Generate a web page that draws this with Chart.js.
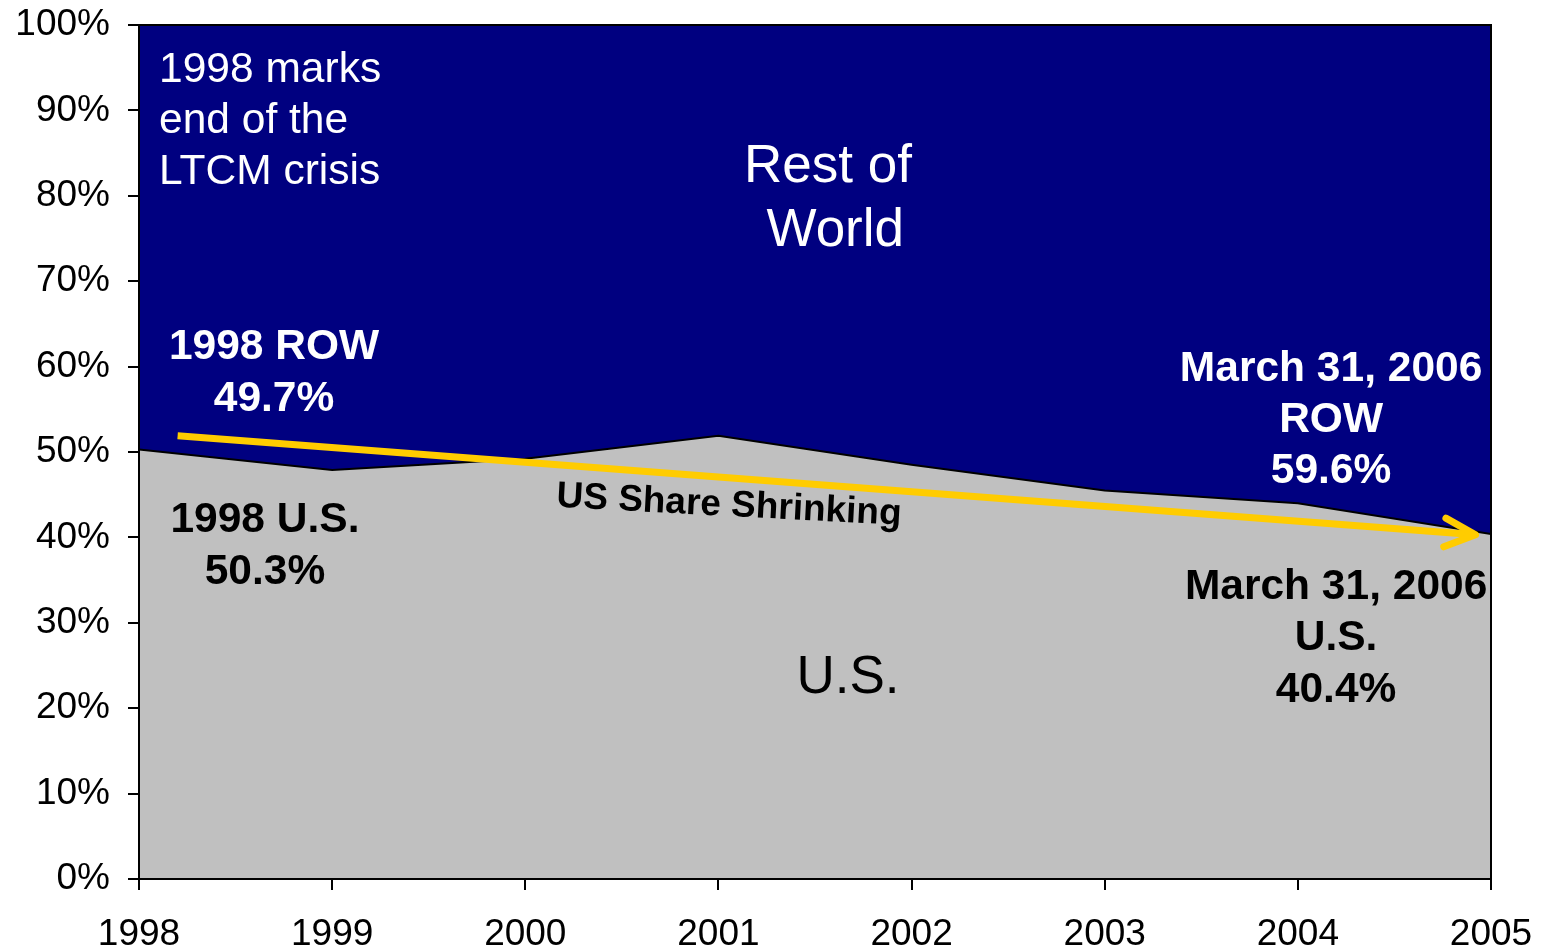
<!DOCTYPE html>
<html><head><meta charset="utf-8">
<script src="https://cdn.jsdelivr.net/npm/chart.js@4"></script>
<style>html,body{margin:0;padding:0;background:#fff}canvas{display:block}</style>
</head><body>
<canvas id="c" width="1541" height="951"></canvas>
<script>
const years = [1998, 1999, 2000, 2001, 2002, 2003, 2004, 2005];
const usShare = [50.3, 47.9, 49.2, 51.9, 48.5, 45.5, 44.0, 40.4];
const rowShare = [49.7, 52.1, 50.8, 48.1, 51.5, 54.5, 56.0, 59.6];
const trendYears = [1998.2, 2004.92];
const trendValues = [51.9, 40.3];

const FONT = "'Liberation Sans', Arial, sans-serif";

// annotation texts, positioned in data units (year, percent)
const notes = [
  {t: '1998 marks', x: 1998.104, y: 94.66, c: '#fff', s: 42.5, w: 'normal', a: 'left'},
  {t: 'end of the', x: 1998.104, y: 88.69, c: '#fff', s: 42.5, w: 'normal', a: 'left'},
  {t: 'LTCM crisis', x: 1998.104, y: 82.72, c: '#fff', s: 42.5, w: 'normal', a: 'left'},
  {t: 'Rest of', x: 2001.567, y: 83.31, c: '#fff', s: 53, w: 'normal', a: 'center'},
  {t: ' World', x: 2001.567, y: 75.81, c: '#fff', s: 53, w: 'normal', a: 'center'},
  {t: '1998 ROW', x: 1998.699, y: 62.23, c: '#fff', s: 42.5, w: 'bold', a: 'center'},
  {t: '49.7%', x: 1998.699, y: 56.14, c: '#fff', s: 42.5, w: 'bold', a: 'center'},
  {t: '1998 U.S.', x: 1998.652, y: 41.97, c: '#000', s: 42.5, w: 'bold', a: 'center'},
  {t: '50.3%', x: 1998.652, y: 35.88, c: '#000', s: 42.5, w: 'bold', a: 'center'},
  {t: 'March 31, 2006', x: 2004.172, y: 59.65, c: '#fff', s: 42.5, w: 'bold', a: 'center'},
  {t: 'ROW', x: 2004.172, y: 53.68, c: '#fff', s: 42.5, w: 'bold', a: 'center'},
  {t: '59.6%', x: 2004.172, y: 47.71, c: '#fff', s: 42.5, w: 'bold', a: 'center'},
  {t: 'March 31, 2006', x: 2004.198, y: 34.13, c: '#000', s: 42.5, w: 'bold', a: 'center'},
  {t: 'U.S.', x: 2004.198, y: 28.15, c: '#000', s: 42.5, w: 'bold', a: 'center'},
  {t: '40.4%', x: 2004.198, y: 22.07, c: '#000', s: 42.5, w: 'bold', a: 'center'},
  {t: 'U.S.', x: 2001.671, y: 23.47, c: '#000', s: 53, w: 'normal', a: 'center'},
  {t: 'US Share Shrinking', x: 2001.055, y: 43.71, c: '#000', s: 37, w: 'bold', a: 'center', r: 3}
];

const annotationPlugin = {
  id: 'annot',
  afterDatasetsDraw(chart) {
    const ctx = chart.ctx, xs = chart.scales.x, ys = chart.scales.y, ca = chart.chartArea;
    ctx.save();
    ctx.strokeStyle = '#000'; ctx.lineWidth = 2;
    ctx.strokeRect(ca.left, ca.top, ca.right - ca.left, ca.bottom - ca.top);
    ctx.restore();
    const meta = chart.getDatasetMeta(0);
    const p1 = meta.data[meta.data.length - 2], p2 = meta.data[meta.data.length - 1];
    const ang = Math.atan2(p2.y - p1.y, p2.x - p1.x);
    const L = 34, da = 25 * Math.PI / 180;
    ctx.save();
    ctx.strokeStyle = '#FFCC00'; ctx.lineWidth = 7; ctx.lineCap = 'round'; ctx.lineJoin = 'round';
    ctx.beginPath();
    ctx.moveTo(p2.x - L * Math.cos(ang - da), p2.y - L * Math.sin(ang - da));
    ctx.lineTo(p2.x, p2.y);
    ctx.lineTo(p2.x - L * Math.cos(ang + da), p2.y - L * Math.sin(ang + da));
    ctx.stroke();
    ctx.restore();
    notes.forEach(n => {
      ctx.save();
      ctx.font = n.w + ' ' + n.s + 'px ' + FONT;
      ctx.fillStyle = n.c;
      ctx.textAlign = n.a;
      ctx.textBaseline = 'middle';
      ctx.translate(xs.getPixelForValue(n.x), ys.getPixelForValue(n.y));
      if (n.r) ctx.rotate(n.r * Math.PI / 180);
      ctx.fillText(n.t, 0, 0);
      ctx.restore();
    });
  }
};

new Chart(document.getElementById('c'), {
  type: 'line',
  data: {
    datasets: [
      {
        label: 'trend',
        data: trendYears.map((x, i) => ({x, y: trendValues[i]})),
        borderColor: '#FFCC00', borderWidth: 7, borderCapStyle: 'butt',
        pointRadius: 0, fill: false, stack: 'trend', tension: 0
      },
      {
        label: 'U.S.',
        data: years.map((x, i) => ({x, y: usShare[i]})),
        borderColor: '#000', borderWidth: 2, backgroundColor: '#C0C0C0',
        pointRadius: 0, fill: 'origin', stack: 'share', tension: 0
      },
      {
        label: 'Rest of World',
        data: years.map((x, i) => ({x, y: rowShare[i]})),
        borderColor: '#000080', borderWidth: 0, backgroundColor: '#000080',
        pointRadius: 0, fill: '-1', stack: 'share', tension: 0
      }
    ]
  },
  options: {
    responsive: false,
    animation: false,
    devicePixelRatio: 1,
    layout: {padding: {top: 25, right: 50, left: 0, bottom: 0}},
    plugins: {legend: {display: false}, tooltip: {enabled: false}},
    scales: {
      x: {
        type: 'linear', min: 1998, max: 2005,
        afterFit(s) { s.height = 72; s.paddingLeft = 0; s.paddingRight = 0; },
        ticks: {stepSize: 1, padding: 23, color: '#000', font: {family: FONT, size: 37}, callback: v => String(v), maxRotation: 0, autoSkip: false},
        grid: {drawOnChartArea: false, color: '#000', lineWidth: 2, tickLength: 11},
        border: {color: '#000', width: 2}
      },
      y: {
        stacked: true, min: 0, max: 100,
        afterFit(s) { s.width = 139; s.paddingTop = 0; s.paddingBottom = 0; },
        ticks: {stepSize: 10, padding: 18, color: '#000', font: {family: FONT, size: 37}, callback: v => v + '%'},
        grid: {drawOnChartArea: false, color: '#000', lineWidth: 2, tickLength: 11},
        border: {color: '#000', width: 2}
      }
    }
  },
  plugins: [annotationPlugin]
});
</script>
</body></html>
